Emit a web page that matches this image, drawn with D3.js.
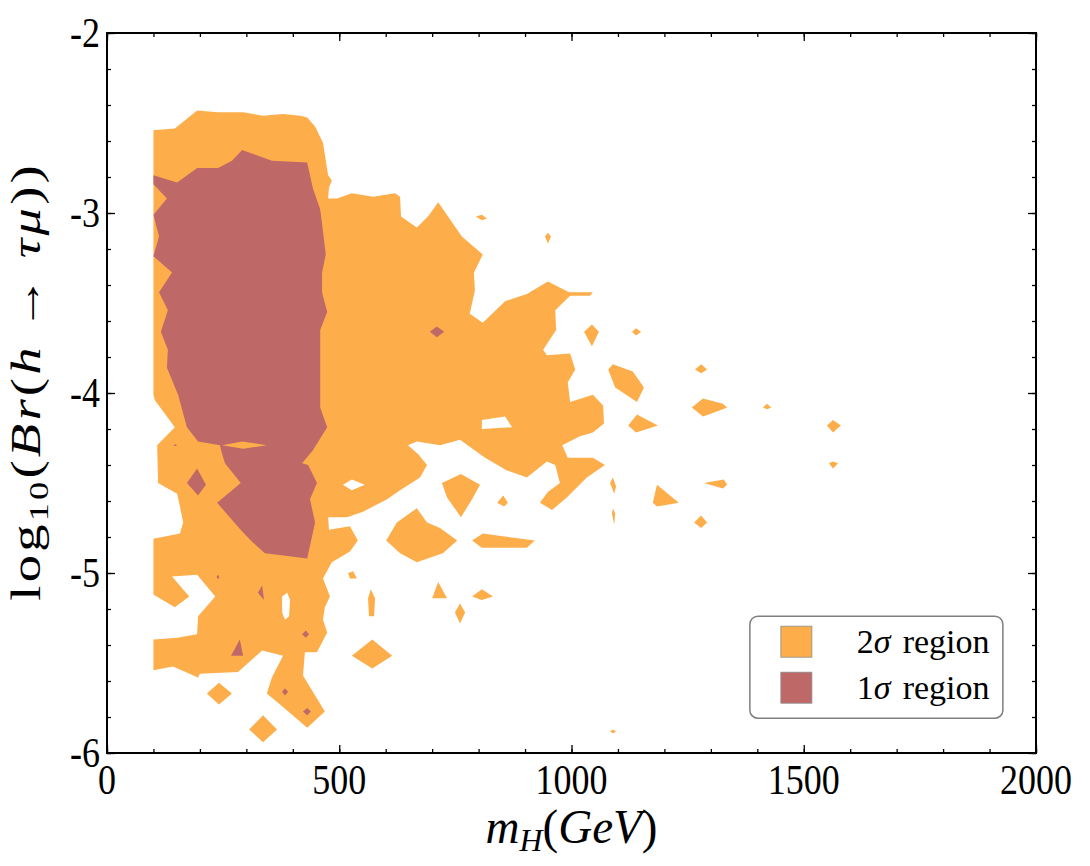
<!DOCTYPE html>
<html>
<head>
<meta charset="utf-8">
<script src="https://cdn.jsdelivr.net/npm/d3@7"></script>
<style>
body { margin: 0; background: #fff; }
text { font-family: "Liberation Serif", "DejaVu Serif", serif; fill: #000; }
</style>
</head>
<body>
<div id="chart-area"></div>
<script>
// axis ticks
var xTicks = [0, 500, 1000, 1500, 2000];
var yTicks = [-2, -3, -4, -5, -6];
var legendNames = ["2σ region", "1σ region"];
var colors = ["#fdae4b", "#bf6868"];

// 2 sigma region, outer boundary of the big blob (m_H GeV, log10 Br)
var orangeMain = [[100,-2.54],[146,-2.53],[194,-2.43],[239,-2.44],[293,-2.44],[336,-2.46],[379,-2.45],[416,-2.46],[431,-2.47],[448,-2.52],[465,-2.61],[476,-2.79],[484,-2.82],[478,-2.86],[476,-2.92],[495,-2.92],[527,-2.89],[573,-2.91],[620,-2.89],[631,-2.91],[633,-3.02],[667,-3.08],[691,-3.02],[713,-2.94],[764,-3.13],[809,-3.23],[790,-3.33],[792,-3.43],[781,-3.56],[809,-3.61],[857,-3.49],[904,-3.45],[949,-3.38],[995,-3.44],[1046,-3.44],[1040,-3.46],[997,-3.46],[965,-3.54],[967,-3.65],[939,-3.76],[947,-3.79],[997,-3.78],[1008,-3.87],[992,-3.94],[997,-4.05],[1046,-4.01],[1068,-4.07],[1070,-4.17],[1046,-4.22],[1018,-4.24],[980,-4.29],[992,-4.36],[1046,-4.36],[1072,-4.40],[1033,-4.47],[990,-4.58],[958,-4.65],[932,-4.61],[949,-4.55],[975,-4.50],[965,-4.40],[947,-4.38],[904,-4.47],[861,-4.43],[814,-4.36],[760,-4.26],[717,-4.29],[667,-4.27],[648,-4.29],[670,-4.34],[689,-4.40],[674,-4.47],[631,-4.54],[603,-4.59],[551,-4.66],[517,-4.69],[476,-4.69],[478,-4.76],[523,-4.74],[540,-4.82],[523,-4.88],[484,-4.94],[465,-5.03],[480,-5.13],[469,-5.19],[465,-5.26],[474,-5.33],[452,-5.44],[426,-5.44],[422,-5.57],[469,-5.77],[431,-5.86],[377,-5.74],[344,-5.67],[355,-5.58],[379,-5.46],[334,-5.43],[282,-5.55],[200,-5.56],[196,-5.58],[142,-5.52],[100,-5.54],[100,-5.37],[151,-5.36],[194,-5.34],[196,-5.24],[233,-5.13],[194,-5.01],[140,-5.02],[177,-5.13],[146,-5.19],[100,-5.12],[100,-4.81],[157,-4.78],[164,-4.72],[157,-4.63],[151,-4.56],[110,-4.50],[108,-4.29],[146,-4.19],[103,-4.04],[100,-4.01]];

// white holes inside the big blob
var orangeHoles = [
  [[377,-5.13],[388,-5.11],[394,-5.15],[392,-5.24],[383,-5.26],[377,-5.22]],
  [[807,-4.15],[857,-4.13],[872,-4.19],[807,-4.20]],
  [[508,-4.51],[527,-4.48],[555,-4.51],[527,-4.54]]
];

// small separate 2 sigma patches
var orangeIslands = [
  [[794,-3.02],[807,-3.01],[818,-3.03],[807,-3.04]],
  [[943,-3.13],[949,-3.11],[956,-3.13],[949,-3.17]],
  [[1027,-3.66],[1044,-3.62],[1059,-3.66],[1044,-3.74]],
  [[1130,-3.66],[1139,-3.64],[1150,-3.66],[1139,-3.68]],
  [[1079,-3.87],[1089,-3.84],[1132,-3.88],[1156,-3.97],[1141,-4.05],[1094,-3.97]],
  [[1266,-3.87],[1279,-3.84],[1292,-3.87],[1279,-3.89]],
  [[1259,-4.08],[1283,-4.03],[1326,-4.06],[1335,-4.08],[1326,-4.09],[1283,-4.13]],
  [[1122,-4.18],[1141,-4.12],[1186,-4.18],[1139,-4.22]],
  [[1412,-4.08],[1421,-4.06],[1430,-4.08],[1421,-4.09]],
  [[1550,-4.18],[1563,-4.15],[1580,-4.18],[1563,-4.22]],
  [[1554,-4.39],[1563,-4.38],[1574,-4.39],[1563,-4.42]],
  [[1083,-4.50],[1089,-4.47],[1096,-4.52],[1092,-4.56]],
  [[1089,-4.64],[1094,-4.67],[1092,-4.73],[1087,-4.67]],
  [[1175,-4.61],[1184,-4.51],[1231,-4.61],[1184,-4.63]],
  [[1285,-4.50],[1328,-4.48],[1335,-4.51],[1326,-4.53]],
  [[1264,-4.72],[1279,-4.68],[1292,-4.72],[1279,-4.75]],
  [[1083,-5.88],[1089,-5.87],[1096,-5.88],[1089,-5.89]],
  [[721,-4.50],[762,-4.45],[803,-4.51],[786,-4.59],[762,-4.69],[732,-4.58]],
  [[840,-4.61],[853,-4.57],[863,-4.61],[855,-4.63]],
  [[786,-4.82],[809,-4.78],[921,-4.82],[904,-4.86],[807,-4.86]],
  [[601,-4.82],[624,-4.72],[667,-4.64],[689,-4.72],[717,-4.75],[754,-4.82],[723,-4.89],[667,-4.94],[631,-4.89]],
  [[519,-5.00],[530,-4.99],[538,-5.03],[523,-5.03]],
  [[562,-5.14],[568,-5.09],[577,-5.14],[575,-5.24],[564,-5.24]],
  [[700,-5.14],[713,-5.05],[732,-5.14]],
  [[749,-5.22],[760,-5.17],[771,-5.22],[760,-5.28]],
  [[786,-5.13],[807,-5.09],[831,-5.13],[807,-5.15]],
  [[527,-5.46],[571,-5.37],[614,-5.46],[571,-5.53]],
  [[215,-5.67],[241,-5.61],[269,-5.67],[241,-5.73]],
  [[306,-5.87],[336,-5.79],[366,-5.87],[336,-5.94]]
];

// 1 sigma region
var redMain = [[100,-2.79],[151,-2.83],[194,-2.75],[239,-2.75],[269,-2.71],[291,-2.65],[355,-2.71],[431,-2.72],[443,-2.86],[459,-2.98],[463,-3.06],[471,-3.23],[463,-3.33],[463,-3.44],[474,-3.55],[459,-3.65],[459,-4.08],[474,-4.19],[443,-4.32],[420,-4.39],[433,-4.40],[452,-4.50],[437,-4.59],[448,-4.72],[431,-4.92],[340,-4.89],[314,-4.83],[291,-4.77],[237,-4.61],[288,-4.50],[254,-4.39],[248,-4.34],[243,-4.29],[196,-4.27],[172,-4.19],[153,-4.01],[129,-3.86],[131,-3.76],[116,-3.66],[131,-3.54],[112,-3.44],[140,-3.33],[100,-3.24],[112,-3.13],[100,-3.01],[129,-2.92],[100,-2.84]];

var redIslands = [
  [[172,-4.50],[194,-4.42],[213,-4.51],[196,-4.57]],
  [[695,-3.66],[710,-3.63],[726,-3.66],[710,-3.69]],
  [[325,-5.11],[334,-5.07],[338,-5.15]],
  [[420,-5.34],[428,-5.32],[435,-5.34],[428,-5.36]],
  [[267,-5.46],[286,-5.37],[293,-5.46]],
  [[377,-5.66],[383,-5.64],[390,-5.66],[383,-5.68]],
  [[422,-5.77],[431,-5.75],[439,-5.77],[431,-5.79]],
  [[236,-5.02],[239,-5.01],[242,-5.025],[239,-5.035]],
  [[143,-4.29],[147,-4.285],[151,-4.29],[147,-4.295]]
];

// thin 2 sigma lens cutting into the 1 sigma blob
var orangeInRed = [[248,-4.29],[291,-4.27],[344,-4.29],[293,-4.31]];

var margin = {top: 33, right: 54, bottom: 113, left: 107},
    width = 1090 - margin.left - margin.right,
    height = 866 - margin.top - margin.bottom;

var svg = d3.select("#chart-area")
  .append("svg")
    .attr("width", 1090)
    .attr("height", 866)
  .append("g")
    .attr("transform", "translate(" + margin.left + "," + margin.top + ")");

var x = d3.scaleLinear().domain([0, 2000]).range([0, width]);
var y = d3.scaleLinear().domain([-6, -2]).range([height, 0]);

var ring = d3.line()
  .x(function(d) { return x(d[0]); })
  .y(function(d) { return y(d[1]); })
  .curve(d3.curveLinearClosed);

function rings(list) {
  return list.map(function(r) { return ring(r); }).join(" ");
}

// 2 sigma
svg.append("path")
  .attr("d", rings([orangeMain].concat(orangeHoles, orangeIslands)))
  .attr("fill", colors[0])
  .attr("fill-rule", "evenodd");

// 1 sigma
svg.append("path")
  .attr("d", rings([redMain].concat(redIslands)))
  .attr("fill", colors[1]);

svg.append("path")
  .attr("d", ring(orangeInRed))
  .attr("fill", colors[0]);

// ticks, all pointing inward, on four sides
var xMinor = d3.range(0, 21).map(function(i) { return i * 100; });
var yMinor = d3.range(0, 21).map(function(i) { return -6 + i * 0.2; });

var sides = [
  [function() { return d3.axisBottom(x); }, "translate(0," + height + ")", xMinor, xTicks],
  [function() { return d3.axisTop(x); }, "translate(0,0)", xMinor, xTicks],
  [function() { return d3.axisLeft(y); }, "translate(0,0)", yMinor, yTicks],
  [function() { return d3.axisRight(y); }, "translate(" + width + ",0)", yMinor, yTicks]
];
sides.forEach(function(a) {
  var g1 = svg.append("g").attr("transform", a[1])
    .call(a[0]().tickValues(a[2]).tickSize(-4).tickFormat(""));
  var g2 = svg.append("g").attr("transform", a[1])
    .call(a[0]().tickValues(a[3]).tickSize(-8).tickFormat(""));
  [g1, g2].forEach(function(g) {
    g.select(".domain").remove();
    g.selectAll("line").attr("stroke", "#000").attr("stroke-width", 1.3);
  });
});

svg.append("rect")
  .attr("width", width)
  .attr("height", height)
  .attr("fill", "none")
  .attr("stroke", "#000")
  .attr("stroke-width", 2);

// tick labels
var sy = 1.2;
svg.selectAll(".xlab")
  .data(xTicks)
  .enter()
  .append("text")
    .attr("class", "xlab")
    .attr("text-anchor", "middle")
    .style("font-size", "36px")
    .attr("transform", function(d) { return "translate(" + x(d) + "," + (height + 41) + ") scale(1," + sy + ")"; })
    .text(function(d) { return d; });

svg.selectAll(".ylab")
  .data(yTicks)
  .enter()
  .append("text")
    .attr("class", "ylab")
    .attr("text-anchor", "end")
    .style("font-size", "36px")
    .attr("transform", function(d) { return "translate(-7," + (y(d) + 14) + ") scale(1," + sy + ")"; })
    .text(function(d) { return d; });

// axis titles
var xt = svg.append("text")
  .attr("text-anchor", "middle")
  .style("font-size", "40px")
  .attr("textLength", 172)
  .attr("lengthAdjust", "spacingAndGlyphs")
  .attr("transform", "translate(" + (width / 2) + "," + (height + 90) + ") scale(1," + sy + ")");
xt.append("tspan").style("font-style", "italic").text("m");
xt.append("tspan").style("font-style", "italic").style("font-size", "27px").attr("dy", 7).text("H");
xt.append("tspan").attr("dy", -7).text("(");
xt.append("tspan").style("font-style", "italic").text("GeV");
xt.append("tspan").text(")");

var yt = svg.append("text")
  .attr("text-anchor", "middle")
  .style("font-size", "42px")
  .attr("textLength", 335)
  .attr("lengthAdjust", "spacing")
  .attr("transform", "translate(-67," + (y(-4) - 10) + ") scale(1,1.3) rotate(-90)");
yt.append("tspan").text("log");
yt.append("tspan").style("font-size", "28px").attr("dy", 8).text("10");
yt.append("tspan").attr("dy", -8).text("(");
yt.append("tspan").style("font-style", "italic").text("Br");
yt.append("tspan").text("(");
yt.append("tspan").style("font-style", "italic").text("h");
yt.append("tspan").text("\u2009→\u2009");
yt.append("tspan").style("font-style", "italic").text("τμ");
yt.append("tspan").text("))");

// legend
var legend = svg.append("g")
  .attr("transform", "translate(" + x(1384) + "," + y(-5.24) + ")");

legend.append("rect")
  .attr("width", 253)
  .attr("height", 102)
  .attr("rx", 8)
  .attr("fill", "#fff")
  .attr("stroke", "#7f7f7f")
  .attr("stroke-width", 1.5);

var items = legend.selectAll(".item")
  .data(legendNames)
  .enter()
  .append("g")
    .attr("class", "item")
    .attr("transform", function(d, i) { return "translate(0," + (i * 46) + ")"; });

items.append("rect")
  .attr("x", 31)
  .attr("y", 10)
  .attr("width", 31)
  .attr("height", 31)
  .attr("fill", function(d, i) { return colors[i]; })
  .attr("stroke", "#8a8a8a")
  .attr("stroke-width", 0.8);

var lt = items.append("text")
  .attr("x", 107)
  .attr("y", 37)
  .style("font-size", "34px");
lt.append("tspan").text(function(d) { return d.charAt(0); });
lt.append("tspan").style("font-style", "italic").text("σ");
lt.append("tspan").attr("dx", 12).text(function(d) { return d.slice(3); });
</script>
</body>
</html>
